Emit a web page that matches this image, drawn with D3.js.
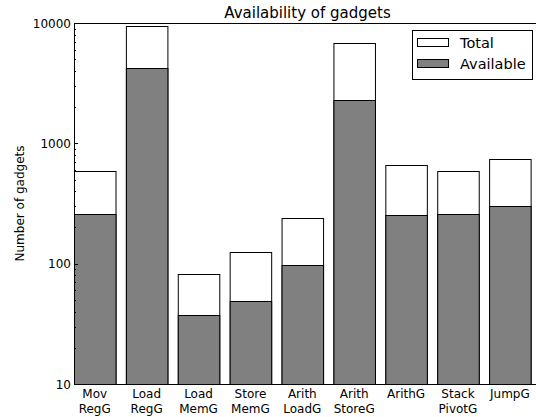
<!DOCTYPE html>
<html>
<head>
<meta charset="utf-8">
<script src="https://cdn.jsdelivr.net/npm/d3@7"></script>
<style>
  body { margin: 0; background: #fff; }
  svg { display: block; font-family: "DejaVu Sans", sans-serif; }
</style>
</head>
<body>
<div id="chart"></div>
<script>
// --- data ---
const categories = ['Mov\nRegG', 'Load\nRegG', 'Load\nMemG', 'Store\nMemG', 'Arith\nLoadG',
                    'Arith\nStoreG', 'ArithG', 'Stack\nPivotG', 'JumpG'];
const total     = [594, 9500, 82, 125, 240, 6760, 660, 594, 740];
const available = [258, 4200, 37.5, 48.5, 97.5, 2300, 254, 259, 302];
const yTicks = [10, 100, 1000, 10000];

const W = 536, H = 417;
const m = { left: 74, top: 23, bottom: 384, right: 541 };

const svg = d3.select('#chart').append('svg').attr('width', W).attr('height', H);

const x = d3.scaleLinear().domain([0, categories.length]).range([m.left, m.right]);
const y = d3.scaleLog().domain([10, 10000]).range([m.bottom, m.top]);
const bw = 0.8;

const g = svg.append('g');

// Total bars (white), then available (grey) on top
g.selectAll('rect.total').data(total).join('rect')
  .attr('class', 'total')
  .attr('x', (d, i) => x(i) + 0.5)
  .attr('width', x(bw) - x(0))
  .attr('y', d => Math.round(y(d)) + 0.5)
  .attr('height', d => m.bottom - Math.round(y(d)))
  .attr('fill', '#fff').attr('stroke', '#000').attr('stroke-width', 1);

g.selectAll('rect.avail').data(available).join('rect')
  .attr('class', 'avail')
  .attr('x', (d, i) => x(i) + 0.5)
  .attr('width', x(bw) - x(0))
  .attr('y', d => Math.round(y(d)) + 0.5)
  .attr('height', d => m.bottom - Math.round(y(d)))
  .attr('fill', '#808080').attr('stroke', '#000').attr('stroke-width', 1);

// y axis: major + minor ticks pointing inward
const minor = [];
for (let e = 1; e < 4; e++) for (let k = 2; k < 10; k++) minor.push(k * Math.pow(10, e));

const ticks = svg.append('g').attr('stroke', '#000').attr('stroke-width', 1);
ticks.selectAll('line.maj').data(yTicks).join('line')
  .attr('x1', m.left).attr('x2', m.left + 4)
  .attr('y1', d => Math.round(y(d)) + 0.5).attr('y2', d => Math.round(y(d)) + 0.5);
ticks.selectAll('line.min').data(minor).join('line')
  .attr('x1', m.left).attr('x2', m.left + 2)
  .attr('y1', d => Math.round(y(d)) + 0.5).attr('y2', d => Math.round(y(d)) + 0.5);

svg.append('g').selectAll('text').data(yTicks).join('text')
  .attr('x', m.left - 3).attr('y', d => y(d) + 4.5)
  .attr('text-anchor', 'end').attr('font-size', 12).attr('fill', '#000')
  .text(d => d);

// frame
svg.append('rect')
  .attr('x', m.left + 0.5).attr('y', m.top + 0.5)
  .attr('width', m.right - m.left).attr('height', m.bottom - m.top)
  .attr('fill', 'none').attr('stroke', '#000').attr('stroke-width', 1);

// x tick labels (two lines)
const xl = svg.append('g').selectAll('text').data(categories).join('text')
  .attr('x', (d, i) => x(i + bw / 2))
  .attr('y', 398)
  .attr('text-anchor', 'middle').attr('font-size', 12).attr('fill', '#000');
xl.selectAll('tspan').data(d => d.split('\n')).join('tspan')
  .attr('x', function () { return this.parentNode.getAttribute('x'); })
  .attr('dy', (d, i) => i === 0 ? 0 : 15)
  .text(d => d);

// title & axis label
svg.append('text').attr('x', 307.5).attr('y', 18)
  .attr('text-anchor', 'middle').attr('font-size', 15).text('Availability of gadgets');

svg.append('text')
  .attr('transform', `translate(24,${(m.top + m.bottom) / 2}) rotate(-90)`)
  .attr('text-anchor', 'middle').attr('font-size', 12).text('Number of gadgets');

// legend
const leg = svg.append('g');
leg.append('rect').attr('x', 412.5).attr('y', 30.5).attr('width', 120).attr('height', 49)
  .attr('fill', '#fff').attr('stroke', '#000');
const items = [{ label: 'Total', fill: '#fff' }, { label: 'Available', fill: '#808080' }];
const li = leg.selectAll('g.item').data(items).join('g')
  .attr('transform', (d, i) => `translate(0,${i * 21})`);
li.append('rect').attr('x', 417.5).attr('y', 38.5).attr('width', 31).attr('height', 8)
  .attr('fill', d => d.fill).attr('stroke', '#000');
li.append('text').attr('x', 460).attr('y', 48).attr('font-size', 14.5).text(d => d.label);
</script>
</body>
</html>
